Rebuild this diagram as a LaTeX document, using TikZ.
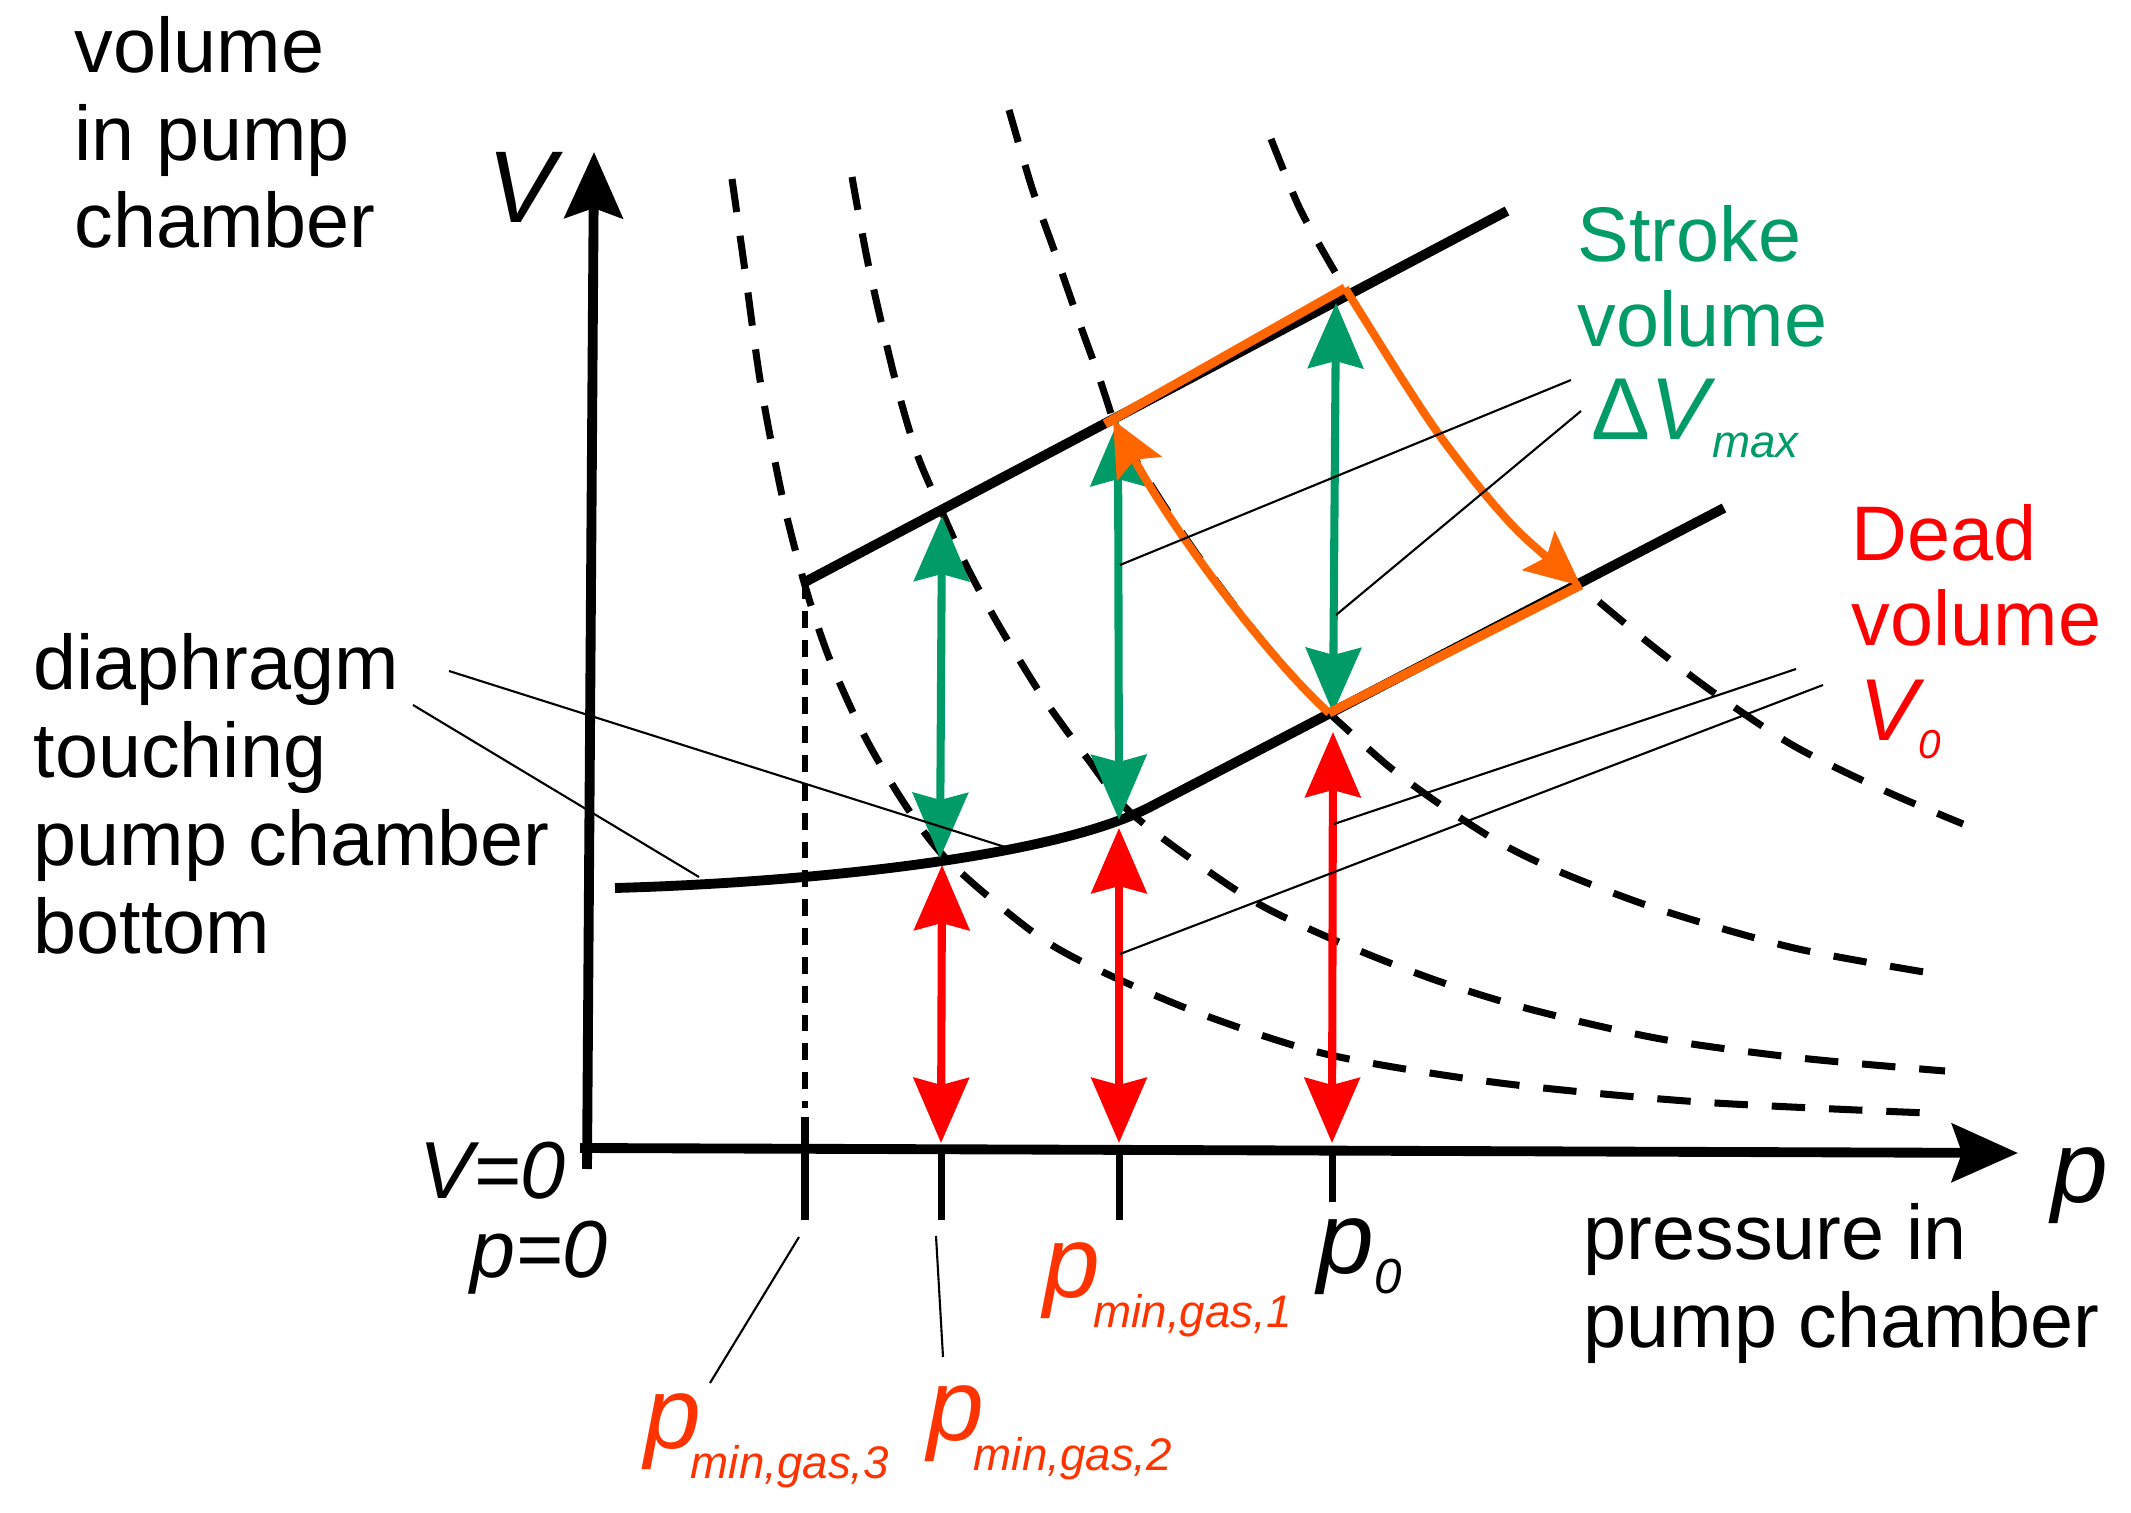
\documentclass[tikz,border=0pt]{standalone}
\usepackage{fontspec}
\setmainfont{Liberation Sans}
\usetikzlibrary{arrows.meta}
\definecolor{strokegreen}{RGB}{0,155,102}
\definecolor{deadred}{RGB}{255,0,0}
\definecolor{cycleorange}{RGB}{255,102,0}
\definecolor{pminred}{RGB}{255,51,0}

\begin{document}
\begin{tikzpicture}[x=0.01cm, y=-0.01cm,
    txt/.style = {inner sep=0, anchor=base west, align=left, font=\fontsize{22}{25}\selectfont},
    bigital/.style = {inner sep=0, font=\fontsize{29}{29}\selectfont\itshape},
    axisline/.style = {line width=2.8pt, -{Stealth[length=6.6mm, width=5.8mm, inset=1mm]}},
    axistick/.style = {line width=2pt},
    border/.style = {line width=2.8pt},
    isotherm/.style = {line width=2pt, dash pattern=on 9.5pt off 6.8pt},
    strokearrow/.style = {strokegreen, line width=2.3pt, {Stealth[length=6.5mm, width=5.5mm, inset=0.7mm]}-{Stealth[length=6.5mm, width=5.5mm, inset=0.7mm]}},
    deadarrow/.style = {deadred, line width=2.3pt, {Stealth[length=6.5mm, width=5.5mm, inset=0.7mm]}-{Stealth[length=6.5mm, width=5.5mm, inset=0.7mm]}},
    orangeline/.style = {cycleorange, line width=2.6pt},
    orangearrow/.style = {cycleorange, line width=2.3pt, -{Stealth[length=5.5mm, width=5mm, inset=1mm]}},
    leader/.style = {line width=0.6pt}]
  \useasboundingbox (0,0) rectangle (2131,1513);

  % axes and ticks
  \coordinate (Vtip) at (594,152);
  \coordinate (ptip) at (2018,1153);
  \draw[axisline] (587,1169) -- (Vtip);
  \draw[axisline] (580,1148) -- (ptip);
  \draw[axistick] (805,1117) -- (805,1220);
  \draw[axistick] (941,1148) -- (941,1220);
  \draw[axistick] (1119,1148) -- (1119,1220);
  \draw[axistick] (1332,1148) -- (1332,1202);
  \draw[line width=1.5pt, dash pattern=on 4.8pt off 3.4pt] (805,582) -- (805,1108);

  % corners of the pump cycle
  \coordinate (cycA) at (1345,288);
  \coordinate (cycB) at (1113,420);
  \coordinate (cycC) at (1329,713);
  \coordinate (cycD) at (1581,586);

  % isotherms
  \draw[isotherm] plot[smooth] coordinates {(732,179) (745,271) (761,386) (783,500) (806,589) (830,660) (864,735) (902,800) (940,852) (990,898) (1050,944) (1120,980) (1212,1018) (1330,1055) (1500,1083) (1700,1102) (1927,1113)};
  \draw[isotherm] plot[smooth] coordinates {(852,177) (869,268) (895,379) (917,454) (942,512) (966,565) (998,624) (1042,696) (1087,758) (1130,812) (1208,871) (1266,908) (1348,946) (1438,981) (1533,1010) (1661,1039) (1800,1058) (1945,1071)};
  \draw[isotherm] plot[smooth] coordinates {(1009,110) (1032,188) (1054,250) (1077,316) (1099,377) (1113,420)}
    .. controls (1173,531) and (1269,659) .. (1329,713)
    -- plot[smooth] coordinates {(1329,713) (1387,765) (1438,803) (1502,844) (1565,874) (1661,910) (1794,948) (1930,973)};
  \draw[isotherm] plot[smooth] coordinates {(1271,139) (1299,207) (1328,260) (1345,288) (1402,379) (1440,436) (1484,493) (1523,536) (1581,586) (1604,606) (1655,648) (1717,695) (1794,746) (1883,790) (1963,824)};

  % diaphragm limits
  \draw[border] (805,582) -- (1507,211);
  \draw[border] (615,888) .. controls (795,883) and (1050,859) .. (1150,807) -- (1724,508);

  % stroke and dead volume arrows
  \coordinate (g1top) at (942,516);  \coordinate (g1bot) at (940,858);
  \coordinate (g2top) at (1118,421); \coordinate (g2bot) at (1119,820);
  \coordinate (g3top) at (1336,303); \coordinate (g3bot) at (1333,713);
  \coordinate (r1top) at (942,865);  \coordinate (r1bot) at (941,1143);
  \coordinate (r2top) at (1119,828); \coordinate (r2bot) at (1119,1143);
  \coordinate (r3top) at (1333,732); \coordinate (r3bot) at (1332,1143);
  \draw[strokearrow] (g1top) -- (g1bot);
  \draw[strokearrow] (g2top) -- (g2bot);
  \draw[strokearrow] (g3top) -- (g3bot);
  \draw[deadarrow] (r1top) -- (r1bot);
  \draw[deadarrow] (r2top) -- (r2bot);
  \draw[deadarrow] (r3top) -- (r3bot);

  % pump cycle
  \draw[orangeline] (1105,424) -- (cycA);
  \draw[orangeline] (cycC) -- (1581,585);
  \draw[orangearrow] plot[smooth] coordinates {(1345,288) (1402,379) (1440,436) (1484,493) (1523,536) (1581,586)};
  \draw[orangearrow] (cycC) .. controls (1269,659) and (1173,531) .. (cycB);

  % labels (multi-line nodes sit on their last baseline)
  \node[txt] (vollabel) at (74,248) {volume\\in pump\\chamber};
  \node[txt] (diaphlabel) at (33,953) {diaphragm\\touching\\pump chamber\\bottom};
  \node[txt] (preslabel) at (1583,1347) {pressure in\\pump chamber};
  \node[txt, text=strokegreen, font=\fontsize{22}{24.2}\selectfont] (strokelabel) at (1577,347) {Stroke\\volume};
  \node[inner sep=0, anchor=base west, text=strokegreen, font=\fontsize{25}{25}\selectfont] (dvlabel) at (1591,440) {Δ\textit{V}\kern-1pt\raisebox{-0.17cm}{\fontsize{13}{13}\selectfont\itshape max}};
  \node[txt, text=deadred, font=\fontsize{22}{24.2}\selectfont] (deadlabel) at (1851,646) {Dead\\volume};
  \node[inner sep=0, anchor=base west, text=deadred, font=\fontsize{25}{25}\selectfont\itshape] (v0label) at (1859,741) {V\raisebox{-0.17cm}{\fontsize{11.5}{11.5}\selectfont 0}};
  \node[bigital, anchor=base] (Vlabel) at (522,223) {V};
  \node[bigital, anchor=base] (plabel) at (2080,1202) {p};
  \node[inner sep=0, anchor=base east, font=\fontsize{23}{23}\selectfont\itshape] (Vzero) at (566,1198) {V=0};
  \node[inner sep=0, anchor=base east, font=\fontsize{23}{23}\selectfont\itshape] (pzero) at (608,1277) {p=0};
  \node[bigital, anchor=base west] (pnull) at (1317,1273) {p\raisebox{-0.2cm}{\fontsize{14}{14}\selectfont 0}};
  \node[bigital, anchor=base west, text=pminred] (pmin1) at (1043,1297) {p\kern-2pt\raisebox{-0.3cm}{\fontsize{13}{13}\selectfont min,gas,1}};
  \node[bigital, anchor=base west, text=pminred] (pmin2) at (927,1440) {p\kern-3pt\raisebox{-0.3cm}{\fontsize{13}{13}\selectfont min,gas,2}};
  \node[bigital, anchor=base west, text=pminred] (pmin3) at (644,1448) {p\kern-3pt\raisebox{-0.3cm}{\fontsize{13}{13}\selectfont min,gas,3}};

  % leader lines
  \coordinate (dia1) at (449,671);   \coordinate (dia1end) at (1005,847);
  \coordinate (dia2) at (413,705);   \coordinate (dia2end) at (699,877);
  \coordinate (str1) at (1571,380);  \coordinate (str1end) at (1120,565);
  \coordinate (str2) at (1581,411);  \coordinate (str2end) at (1336,615);
  \coordinate (dead1) at (1796,669); \coordinate (dead1end) at (1334,824);
  \coordinate (dead2) at (1823,685); \coordinate (dead2end) at (1120,954);
  \coordinate (pm3) at (710,1383);   \coordinate (pm3end) at (799,1237);
  \coordinate (pm2) at (943,1357);   \coordinate (pm2end) at (936,1236);
  \draw[leader] (dia1) -- (dia1end);
  \draw[leader] (dia2) -- (dia2end);
  \draw[leader] (str1) -- (str1end);
  \draw[leader] (str2) -- (str2end);
  \draw[leader] (dead1) -- (dead1end);
  \draw[leader] (dead2) -- (dead2end);
  \draw[leader] (pm3) -- (pm3end);
  \draw[leader] (pm2) -- (pm2end);
\end{tikzpicture}
\end{document}
